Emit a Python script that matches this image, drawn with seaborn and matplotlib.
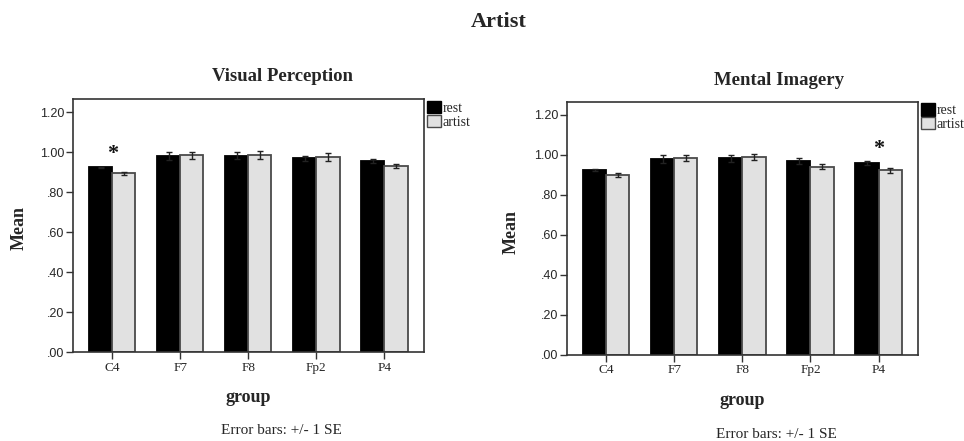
import matplotlib
matplotlib.use("Agg")
import matplotlib.pyplot as plt
from matplotlib.patches import Patch
from matplotlib.ticker import FuncFormatter
import numpy as np
import pandas as pd
import seaborn as sns

# Electrode groups and conditions
groups = ["C4", "F7", "F8", "Fp2", "P4"]
conditions = ["rest", "artist"]

# Visual Perception: means and standard errors
vp_rest = [0.925, 0.980, 0.983, 0.971, 0.958]
vp_artist = [0.895, 0.985, 0.988, 0.977, 0.930]
vp_rest_se = [0.004, 0.020, 0.018, 0.013, 0.011]
vp_artist_se = [0.008, 0.018, 0.020, 0.018, 0.010]

# Mental Imagery: means and standard errors
mi_rest = [0.923, 0.977, 0.982, 0.968, 0.957]
mi_artist = [0.900, 0.983, 0.987, 0.940, 0.922]
mi_rest_se = [0.004, 0.020, 0.017, 0.015, 0.011]
mi_artist_se = [0.010, 0.015, 0.015, 0.014, 0.013]

# Significant group per panel
vp_star = "C4"
mi_star = "P4"

sns.set_theme(style="ticks")
plt.rcParams["font.family"] = ["Liberation Serif", "DejaVu Serif"]

fill = {"rest": "#000000", "artist": "#e1e1e1"}
edge = {"rest": "#000000", "artist": "#4a4a4a"}


def panel(ax, rest, artist, rest_se, artist_se, star, title, title_x,
          title_y, xlab_y, ylab_x, ylab_y):
    df = pd.DataFrame({
        "group": groups * 2,
        "cond": ["rest"] * len(groups) + ["artist"] * len(groups),
        "mean": list(rest) + list(artist),
    })
    sns.barplot(data=df, x="group", y="mean", hue="cond", order=groups,
                hue_order=conditions, palette=fill, width=0.68,
                saturation=1, errorbar=None, legend=False, ax=ax)
    ses = {"rest": rest_se, "artist": artist_se}
    vals = {"rest": rest, "artist": artist}
    for cond, cont in zip(conditions, ax.containers):
        xs = []
        for bar in cont:
            bar.set_edgecolor(edge[cond])
            bar.set_linewidth(1.3)
            xs.append(bar.get_x() + bar.get_width() / 2)
        ax.errorbar(xs, vals[cond], yerr=ses[cond], fmt="none",
                    ecolor="#222222", elinewidth=1.0, capsize=2.5,
                    capthick=1.0, zorder=5)

    ax.set_xlim(-0.58, 4.58)
    ax.set_ylim(0, 1.265)
    ax.set_yticks([0, 0.2, 0.4, 0.6, 0.8, 1.0, 1.2])
    ax.yaxis.set_major_formatter(FuncFormatter(
        lambda v, p: f"{v:.2f}"[1:] if v < 1 else f"{v:.2f}"))
    for lab in ax.get_yticklabels():
        lab.set_family(["Liberation Sans", "DejaVu Sans"])
    ax.tick_params(axis="y", labelsize=9, length=5, width=1.0,
                   color="#333333", pad=1)
    ax.tick_params(axis="x", labelsize=9.5, length=5, width=1.0,
                   color="#333333", pad=2)
    for s in ax.spines.values():
        s.set_visible(True)
        s.set_color("#333333")
        s.set_linewidth(1.2)

    ax.set_xlabel("group", fontsize=13, fontweight="bold")
    ax.xaxis.set_label_coords(0.5, xlab_y)
    ax.xaxis.label.set_va("center")
    ax.set_ylabel("Mean", fontsize=13, fontweight="bold")
    ax.yaxis.set_label_coords(ylab_x, ylab_y)
    ax.yaxis.label.set_va("center")
    ax.text(title_x, title_y, title, transform=ax.transAxes, ha="center",
            va="center", fontsize=13.5, fontweight="bold")

    si = groups.index(star)
    top = max(vals["rest"][si] + ses["rest"][si],
              vals["artist"][si] + ses["artist"][si])
    ax.text(si, top + 0.062, "*", ha="center", va="center",
            fontsize=16, fontweight="bold", color="#111111")

    handles = [Patch(facecolor=fill[c], edgecolor=edge[c], linewidth=1.0,
                     label=c) for c in conditions]
    ax.legend(handles=handles, loc="upper left", bbox_to_anchor=(1.004, 1.0),
              frameon=False, fontsize=10, handlelength=1.0, handleheight=1.0,
              handletextpad=0.15, labelspacing=0.0, borderaxespad=0,
              borderpad=0.1)


fig = plt.figure(figsize=(9.64, 4.41), dpi=100)
ax1 = fig.add_axes([0.0754, 0.2011, 0.3644, 0.5737])
ax2 = fig.add_axes([0.5879, 0.1961, 0.3644, 0.5733])

panel(ax1, vp_rest, vp_artist, vp_rest_se, vp_artist_se, vp_star,
      "Visual Perception", 0.596, 1.09, -0.177, -0.152, 0.49)
panel(ax2, mi_rest, mi_artist, mi_rest_se, mi_artist_se, mi_star,
      "Mental Imagery", 0.603, 1.085, -0.18, -0.158, 0.483)

fig.text(499 / 964, 1 - 22 / 441, "Artist", ha="center", va="center",
         fontsize=16, fontweight="bold")
fig.text(281 / 964, 1 - 431 / 441, "Error bars: +/- 1 SE", ha="center",
         va="center", fontsize=11)
fig.text(776 / 964, 1 - 434 / 441, "Error bars: +/- 1 SE", ha="center",
         va="center", fontsize=11)

fig.savefig("out.png", dpi=100, facecolor="white")
